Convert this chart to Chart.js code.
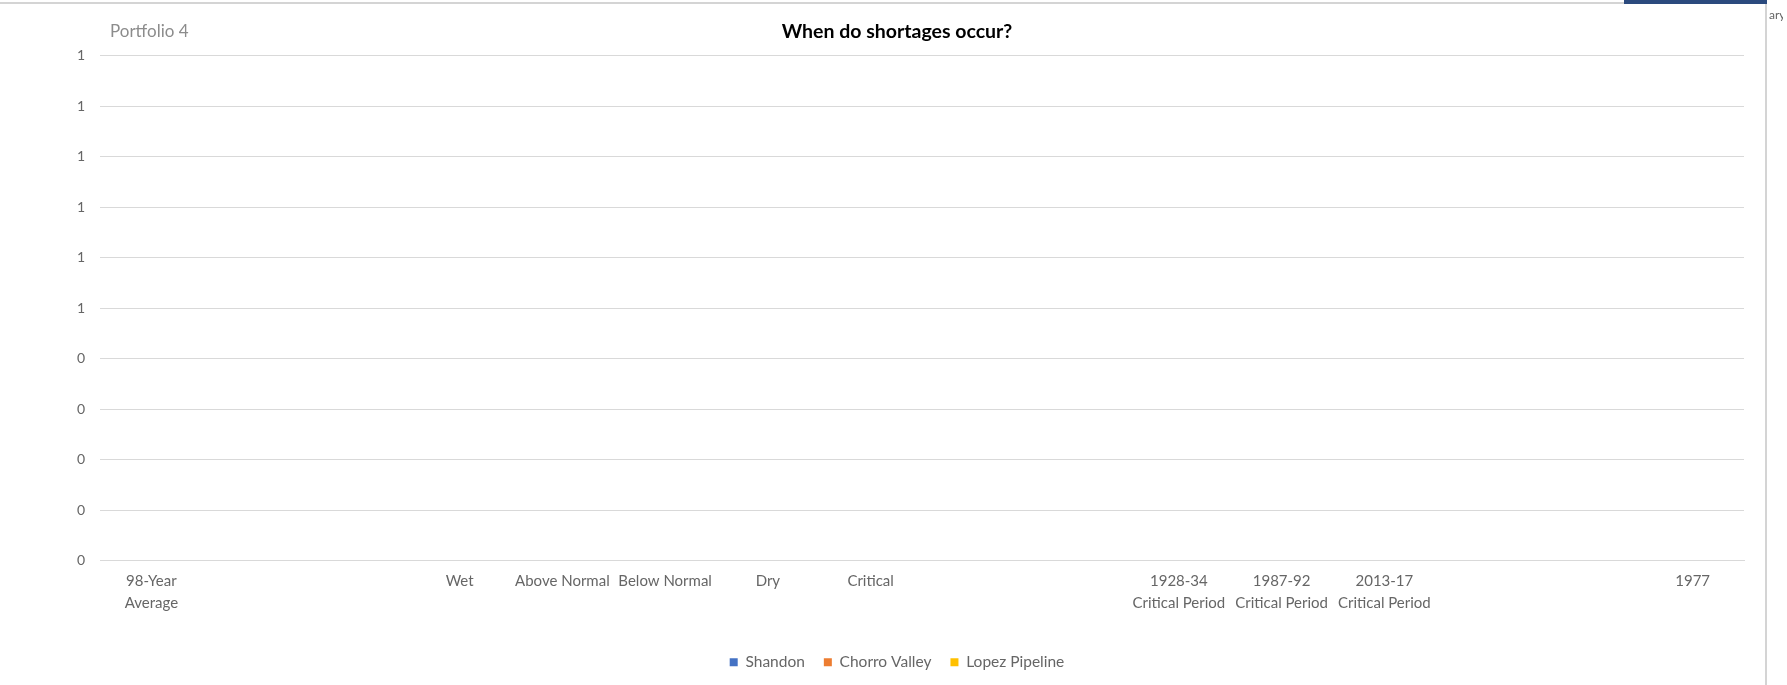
<!DOCTYPE html>
<html>
<head>
<meta charset="utf-8">
<script src="https://cdn.jsdelivr.net/npm/chart.js@4/dist/chart.umd.min.js"></script>
<style>
  html, body { margin: 0; padding: 0; background: #ffffff; overflow: hidden; }
  #wrap { position: relative; width: 1787px; height: 685px; }
  #topline { position: absolute; left: 0; top: 2px; width: 1766px; height: 2px; background: #d4d4d4; }
  #rightline { position: absolute; left: 1765px; top: 3px; width: 2px; height: 682px; background: #d4d4d4; }
  #bluebox { position: absolute; left: 1624px; top: 0; width: 143px; height: 4px; background: #2b4a7e; }
  #frag { position: absolute; left: 1769px; top: 7px; font: 12px Lato, sans-serif; color: #666; width: 14px; overflow: hidden; white-space: nowrap; }
  #sub { position: absolute; left: 110px; top: 20px; font: 17px Lato, sans-serif; color: #8c8c8c; }
  canvas { position: absolute; left: 0; top: 0; }
</style>
</head>
<body>
<div id="wrap">
  <canvas id="c" width="1787" height="685"></canvas>
  <div id="topline"></div>
  <div id="rightline"></div>
  <div id="bluebox"></div>
  <div id="frag">ary</div>
  <div id="sub">Portfolio 4</div>
</div>
<script>
const chartTitle = "When do shortages occur?";
const categories = [
  ["98-Year", "Average"], "", "", "Wet", "Above Normal", "Below Normal", "Dry", "Critical",
  "", "", ["1928-34", "Critical Period"], ["1987-92", "Critical Period"], ["2013-17", "Critical Period"],
  "", "", "1977"
];
const seriesNames = ["Shandon", "Chorro Valley", "Lopez Pipeline"];
const seriesColors = ["#4472C4", "#ED7D31", "#FFC000"];
const shandon      = [0,0,0,0,0,0,0,0,0,0,0,0,0,0,0,0];
const chorroValley = [0,0,0,0,0,0,0,0,0,0,0,0,0,0,0,0];
const lopezPipeline= [0,0,0,0,0,0,0,0,0,0,0,0,0,0,0,0];
const yMin = 0, yMax = 1, yStep = 0.1;

const seriesValues = [shandon, chorroValley, lopezPipeline];
const textGray = "#666666";

new Chart(document.getElementById("c"), {
  type: "bar",
  data: {
    labels: categories,
    datasets: seriesNames.map((n, i) => ({
      label: n,
      data: seriesValues[i],
      backgroundColor: seriesColors[i],
      borderWidth: 0
    }))
  },
  options: {
    responsive: false,
    animation: false,
    devicePixelRatio: 1,
    layout: { padding: { left: 50, right: 43, top: 0, bottom: 5 } },
    plugins: {
      title: {
        display: true,
        text: chartTitle,
        color: "#000000",
        font: { family: "Lato", size: 19.5, weight: "bold", lineHeight: 1.2 },
        padding: { top: 20, bottom: 12.5 }
      },
      legend: {
        position: "bottom",
        labels: {
          color: textGray,
          font: { family: "Lato", size: 15.5 },
          boxWidth: 8,
          boxHeight: 8,
          padding: 19
        }
      },
      tooltip: { enabled: false }
    },
    scales: {
      x: {
        grid: { display: false, drawTicks: false },
        border: { display: true, color: "#d9d9d9", width: 1 },
        ticks: {
          autoSkip: false,
          maxRotation: 0,
          minRotation: 0,
          color: textGray,
          padding: 10,
          font: { family: "Lato", size: 15, lineHeight: 1.45 }
        },
        afterFit: s => { s.height = 75; }
      },
      y: {
        min: yMin,
        max: yMax,
        grid: { color: "#d9d9d9", lineWidth: 1, drawTicks: false },
        border: { display: false },
        ticks: {
          stepSize: yStep,
          color: textGray,
          padding: 15,
          font: { family: "Lato", size: 14 },
          callback: v => String(Math.round(v))
        },
        afterFit: s => { s.width = 50; }
      }
    }
  }
});
</script>
</body>
</html>
